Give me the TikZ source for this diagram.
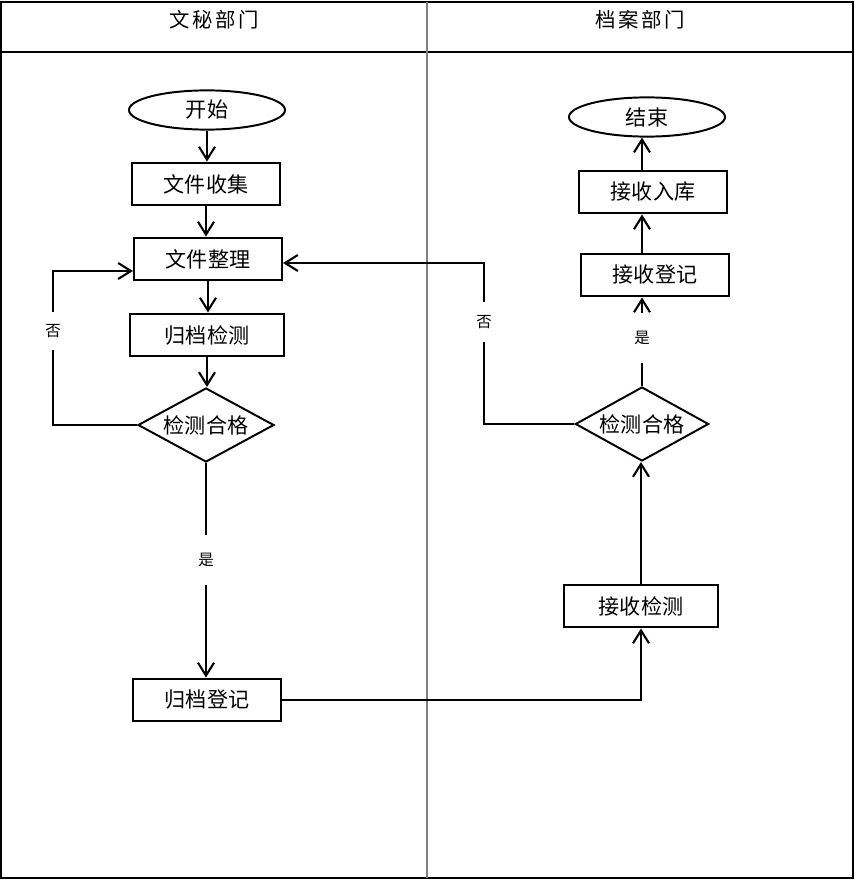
\documentclass[tikz,border=0pt]{standalone}
\usepackage{fontspec}
\newfontfamily\cjk{Noto Sans CJK SC}
\newfontfamily\cjkwide[LetterSpace=12]{Noto Sans CJK SC}
\usetikzlibrary{shapes.geometric,arrows.meta}

\begin{document}
\begin{tikzpicture}[x=0.025cm,y=-0.025cm,
    box/.style={draw,line width=1.5pt,minimum width=3.7cm,minimum height=1.07cm,
      font=\cjk\fontsize{15}{16}\selectfont},
    term/.style={draw,ellipse,line width=1.4pt,minimum width=3.9cm,minimum height=0.98cm,
      inner sep=0pt,font=\cjk\fontsize{15}{16}\selectfont},
    decide/.style={draw,diamond,aspect=1.8,line width=1.4pt,minimum width=3.4cm,
      minimum height=1.85cm,inner sep=0pt,font=\cjk\fontsize{15}{16}\selectfont},
    head/.style={font=\cjkwide\fontsize{14.5}{16}\selectfont},
    lbl/.style={font=\cjk\fontsize{11}{12}\selectfont,inner sep=0pt},
    link/.style={line width=1.5pt},
    flow/.style={line width=1.5pt,-{Straight Barb[length=3.2mm,width=4mm]}}]
  \useasboundingbox (0,0) rectangle (854,880);
  % lanes
  \draw[line width=0.9pt] (1,2) rectangle (853,878);
  \draw[line width=0.9pt] (1,52) -- (853,52);
  \draw[gray,line width=0.8pt] (427,2) -- (427,878);
  \node[head] (secr) at (214,20) {文秘部门};
  \node[head] (arch) at (640,20) {档案部门};

  % left lane
  \node[term] (start) at (207,110) {开始};
  \node[box] (collect) at (206,184) {文件收集};
  \node[box] (sort) at (208,259) {文件整理};
  \node[box,minimum width=3.85cm] (check) at (207,335) {归档检测};
  \node[decide] (ok1) at (206,425) {检测合格};
  \node[lbl,minimum height=1.25cm] (yes1) at (206,560) {是};
  \node[lbl,minimum height=0.95cm] (no1) at (53,331) {否};
  \node[box] (reg) at (207,700) {归档登记};

  % right lane
  \node[term] (end) at (647,117) {结束};
  \node[box] (store) at (653,192) {接收入库};
  \node[box] (regR) at (655,275) {接收登记};
  \node[lbl,minimum height=1.22cm] (yes2) at (642,338) {是};
  \node[decide,minimum width=3.33cm] (ok2) at (642,424) {检测合格};
  \node[lbl,minimum height=1cm] (no2) at (484,322) {否};
  \node[box,minimum width=3.85cm] (recv) at (641,606) {接收检测};

  \draw[flow] (start.south) -- (start.south |- collect.north);
  \draw[flow] (collect.south) -- (collect.south |- sort.north);
  \draw[flow] (sort.south) -- (sort.south |- check.north);
  \draw[flow] (check.south) -- (check.south |- ok1.north);
  \draw[link] (ok1.south) -- (yes1.north);
  \draw[flow] (yes1.south) -- (yes1.south |- reg.north);
  \draw[link] (ok1.west) -| (no1.south);
  \draw[flow] (no1.north) |- ([yshift=-0.3cm]sort.west);

  \draw[flow] (reg.east) -| (recv.south);
  \draw[flow] (recv.north) -- (recv.north |- ok2.south);
  \draw[link] (ok2.north) -- (yes2.south);
  \draw[flow] (yes2.north) -- (yes2.north |- regR.south);
  \draw[flow] (yes2.north |- regR.north) -- (yes2.north |- store.south);
  \draw[flow] (yes2.north |- store.north) -- (yes2.north |- end.south);
  \draw[link] (ok2.west) -| (no2.south);
  \draw[flow] (no2.north) |- ([yshift=-0.1cm]sort.east);
\end{tikzpicture}
\end{document}
